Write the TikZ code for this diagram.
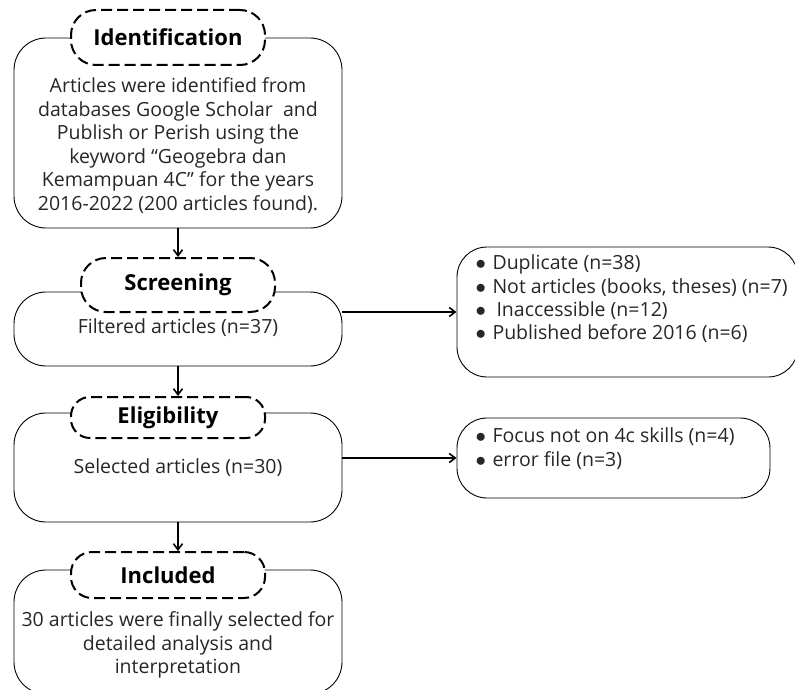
\documentclass[tikz,border=0pt]{standalone}
\usepackage{fontspec}
\setmainfont{Open Sans}
\usetikzlibrary{positioning,arrows.meta}

\tikzset{
  stagebox/.style={draw, rounded corners=32pt, line width=0.9pt, minimum width=328pt, inner sep=0pt},
  pill/.style={draw, fill=white, rounded corners=19pt, dash pattern=on 11pt off 5pt, line width=2pt, minimum width=194pt, inner sep=0pt, font=\bfseries\fontsize{22}{24}\selectfont},
  stagetext/.style={align=center, text=black!85, font=\fontsize{19.5}{23.6}\selectfont},
  listbox/.style={draw, rounded corners=30pt, line width=0.9pt, inner sep=0pt},
  listtext/.style={align=left, anchor=west, text=black!85, font=\fontsize{19.5}{23.3}\selectfont},
  flow/.style={-{Straight Barb[length=6pt,width=9pt]}, line width=1.6pt}
}
\newcommand{\itm}{\makebox[17pt][l]{$\bullet$}}

\begin{document}
\begin{tikzpicture}[x=1pt, y=-1pt]
  \path[use as bounding box, clip] (0,0) rectangle (795,690);

  % outer boxes
  \node[stagebox, minimum height=190pt] (idbox) at (178,133) {};
  \node[stagebox, minimum height=74pt] (scrbox) at (178,329) {};
  \node[stagebox, minimum height=109pt] (elgbox) at (178,467.5) {};
  \node[stagebox, minimum height=124pt] (incbox) at (178,632) {};

  % stage labels
  \node[pill, minimum height=55pt, rounded corners=25pt] (idlabel) at (168,37.5) {Identification};
  \node[pill, minimum height=54pt, rounded corners=25pt] (scrlabel) at (178,285) {Screening};
  \node[pill, minimum height=41pt] (elglabel) at (168,417.5) {Eligibility};
  \node[pill, minimum height=46pt, rounded corners=21pt] (inclabel) at (168,575) {Included};

  % stage texts
  \node[stagetext] (idtext) at (178,145.5) {Articles were identified from\\databases Google Scholar\ \ and\\Publish or Perish using the\\keyword “Geogebra dan\\Kemampuan 4C” for the years\\2016-2022 (200 articles found).};
  \node[stagetext] (scrtext) at (178,328) {Filtered articles (n=37)};
  \node[stagetext] (elgtext) at (178,468) {Selected articles (n=30)};
  \node[stagetext] (inctext) at (178,645) {30 articles were finally selected for\\detailed analysis and\\interpretation};

  % excluded records
  \node[listbox, minimum width=341pt, minimum height=130pt] (dupbox) at (627.5,312) {};
  \node[listtext] (duptext) at (472,299) {\itm Duplicate (n=38)\\\itm Not articles (books, theses) (n=7)\\\itm\hspace{4pt}Inaccessible (n=12)\\\itm Published before 2016 (n=6)};
  \node[listbox, minimum width=313pt, minimum height=80pt] (focbox) at (613.5,458) {};
  \node[listtext] (foctext) at (472,448.5) {\itm Focus not on 4c skills (n=4)\\\itm error file (n=3)};

  % arrows
  \draw[flow] (idbox.south) -- (scrlabel.north);
  \draw[flow] (scrbox.south) -- (scrbox.south |- elglabel.north);
  \draw[flow] (elgbox.south) -- (elgbox.south |- inclabel.north);
  \draw[flow] (scrbox.east |- dupbox.west) -- (dupbox.west);
  \draw[flow] (elgbox.east |- focbox.west) -- (focbox.west);
\end{tikzpicture}
\end{document}
